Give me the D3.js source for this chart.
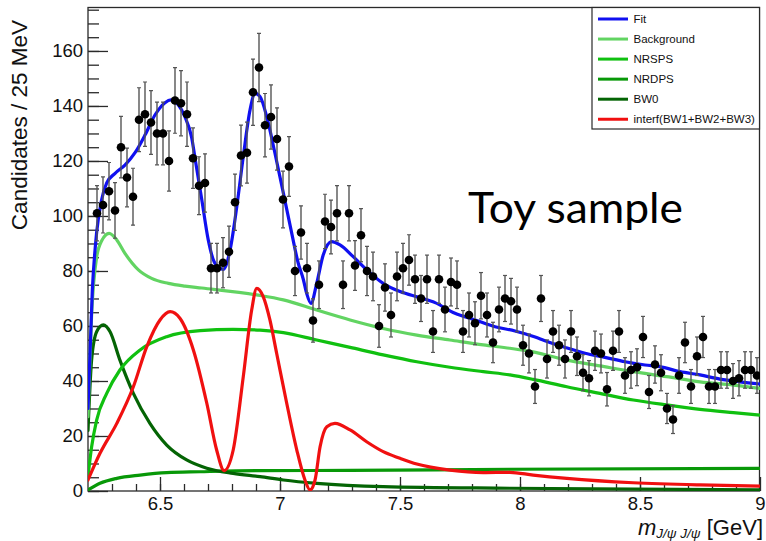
<!DOCTYPE html>
<html>
<head>
<meta charset="utf-8">
<script src="https://cdn.jsdelivr.net/npm/d3@7"></script>
<style>
  body { margin: 0; background: #fff; }
  svg { display: block; }
</style>
</head>
<body>
<svg id="chart" width="766" height="541"></svg>
<script>
// ---- binned data: candidates per 25 MeV bin, starting at 6.2 GeV ----
const binLow = 6.2;
const binWidth = 0.025;
const counts = [null,
  101, 104, 109, 102, 125, 114, 107, 135, 137, 134,
  130, 130, 120, 142, 141, 137, 121, 111, 112, 81,
  81, 83, 87, 105, 122, 123, 145, 154, 133, 136,
  128, 106, 118, 80, 94, 81, 62, 75, 98, 96,
  101, 75, 101, 82, 93, 80, 78, 60, 74, 64,
  78, 81, 84, 77, 70, 77, 58, 77, 66, 76,
  75, 58, 64, 61, 71, 64, 54, 66, 70, 69,
  66, 53, 50, 38, 70, 48, 58, 53, 48, 58,
  49, 43, 41, 51, 50, 37, 51, 58, 42, 44,
  45, 56, 36, 46, 43, 30, 26, 42, 54, 38,
  49, 56, 38, 38, 44, 44, 40, 41, 44, 44,
  42];

// ---- fitted model and components, sampled in mass (GeV) ----
const fitMass = [6.200, 6.218, 6.236, 6.257, 6.278, 6.313, 6.354, 6.396, 6.438, 6.479,
  6.521, 6.546, 6.576, 6.604, 6.632, 6.646, 6.674, 6.701, 6.729, 6.764,
  6.792, 6.820, 6.847, 6.875, 6.896, 6.917, 6.945, 6.979, 7.014, 7.049,
  7.076, 7.097, 7.111, 7.129, 7.153, 7.180, 7.215, 7.250, 7.305, 7.361,
  7.430, 7.500, 7.583, 7.646, 7.729, 7.813, 7.896, 7.979, 8.063, 8.104,
  8.188, 8.271, 8.354, 8.438, 8.521, 8.583, 8.667, 8.750, 8.833, 8.917, 9.000];
const fitVals = [30, 73, 94, 106, 112, 115.5, 118.5, 123, 129.5, 136.7,
  141.2, 142.2, 140.4, 136, 128.5, 121, 106, 91.3, 82.8, 80.6,
  87.6, 103.4, 121.6, 138.5, 144.6, 143.4, 136, 122.8, 108.3, 93.7,
  82.8, 77, 71.9, 68.2, 75.5, 85.8, 90.7, 89.5, 85.2, 80.4,
  75.5, 72.5, 70.3, 68.5, 64.6, 62.2, 59.7, 58.2, 56, 54.6,
  52.2, 50.1, 48.6, 47, 45.8, 45.2, 43.4, 42.2, 40.7, 39.7, 38.9];

const bkgMass = [6.200, 6.215, 6.236, 6.257, 6.288, 6.320, 6.354, 6.410, 6.465, 6.535,
  6.604, 6.674, 6.903, 7.014, 7.153, 7.292, 7.430, 7.570, 7.708, 7.847,
  7.958, 8.055, 8.195, 8.333, 8.472, 8.611, 8.750, 8.889, 9.000];
const bkgVals = [27, 64, 85, 91, 93.7, 91.3, 86.4, 80.4, 77.3, 75.5,
  74.5, 73.8, 71.3, 69.5, 65.8, 62.2, 59.1, 56.7, 54.9, 53.1,
  51.9, 50.6, 47.6, 45.5, 43.4, 41.6, 39.7, 38.5, 37.3];

const nrspsMass = [6.200, 6.215, 6.236, 6.278, 6.333, 6.417, 6.528, 6.667, 6.805, 6.917,
  7.014, 7.153, 7.292, 7.430, 7.570, 7.708, 7.847, 7.958, 8.055, 8.195,
  8.333, 8.472, 8.611, 8.750, 8.889, 9.000];
const nrspsVals = [5.2, 16, 25.8, 35.5, 44, 51.3, 56.1, 58.3, 58.8, 58.5,
  57.6, 54.9, 52.2, 49.5, 47, 45, 43.4, 42.2, 40.6, 37.9,
  35.5, 33.1, 31.3, 29.7, 28.5, 27.6];

const nrdpsMass = [6.200, 6.250, 6.320, 6.417, 6.528, 6.667, 6.917, 7.292, 7.958, 9.000];
const nrdpsVals = [0.4, 2.8, 4.6, 5.8, 6.7, 7.0, 7.4, 7.5, 7.9, 8.2];

const bw0Mass = [6.200, 6.215, 6.236, 6.264, 6.292, 6.333, 6.389, 6.458, 6.528, 6.611,
  6.695, 6.805, 6.917, 7.014, 7.153, 7.430, 7.958, 9.000];
const bw0Vals = [22, 47.6, 57.9, 60.4, 57.9, 47.6, 35.5, 24.6, 16.7, 11.3,
  8.3, 6.4, 5.2, 4, 2.8, 1.6, 1, 0.4];

const interfMass = [6.200, 6.250, 6.320, 6.389, 6.445, 6.500, 6.542, 6.583, 6.639, 6.695,
  6.736, 6.767, 6.805, 6.847, 6.882, 6.903, 6.930, 6.958, 6.986, 7.028,
  7.070, 7.104, 7.125, 7.146, 7.167, 7.195, 7.229, 7.292, 7.361, 7.430,
  7.500, 7.570, 7.708, 7.847, 7.958, 8.055, 8.195, 8.472, 8.750, 9.000];
const interfVals = [4, 13.7, 24.6, 37.9, 52.5, 62.2, 65.2, 62.8, 51.3, 31.9,
  14.9, 7.4, 14.9, 41.6, 65.8, 73.7, 70.7, 62.2, 50.1, 31.9,
  14.9, 4, 0.4, 4, 16.1, 23.4, 24.6, 22.2, 17.9, 14.3,
  11.9, 9.8, 7.6, 6.7, 6.8, 5.8, 4.6, 3, 2.2, 1.8];

// ---- axis ticks ----
const yMajorTicks = [0, 20, 40, 60, 80, 100, 120, 140, 160];
const yMinorTicks = d3.range(0, 176, 5);
const xMajorTicks = [6.5, 7, 7.5, 8, 8.5, 9];
const xTickLabels = ["6.5", "7", "7.5", "8", "8.5", "9"];
const xMinorTicks = [6.3, 6.4, 6.5, 6.6, 6.7, 6.8, 6.9, 7.0, 7.1, 7.2, 7.3, 7.4, 7.5,
  7.6, 7.7, 7.8, 7.9, 8.0, 8.1, 8.2, 8.3, 8.4, 8.5, 8.6, 8.7, 8.8, 8.9];

// ---- legend ----
const legendNames = ["Fit", "Background", "NRSPS", "NRDPS", "BW0", "interf(BW1+BW2+BW3)"];
const legendColors = ["#1010f0", "#62d462", "#10c010", "#089808", "#046404", "#f01010"];

// ---- layout ----
const svg = d3.select("#chart");
const plotLeft = 88, plotRight = 760, plotTop = 7.5, plotBottom = 491;

const x = d3.scaleLinear().domain([6.2, 9]).range([plotLeft, plotRight]);
const y = d3.scaleLinear().domain([0, 175.8]).range([plotBottom, plotTop]);

svg.append("defs").append("clipPath").attr("id", "plotClip")
  .append("rect").attr("x", plotLeft).attr("y", plotTop)
  .attr("width", plotRight - plotLeft).attr("height", plotBottom - plotTop);

// minor / major ticks drawn inward
const axisColor = "#2a2a2a";
function styleAxis(g) {
  g.select(".domain").remove();
  g.selectAll(".tick line").attr("stroke", axisColor).attr("stroke-width", 1.3);
  g.selectAll(".tick text").attr("fill", "#111")
    .attr("font-family", "'Liberation Sans', Arial, sans-serif").attr("font-size", 18.5);
}

svg.append("g").attr("transform", `translate(${plotLeft},0)`)
  .call(d3.axisLeft(y).tickValues(yMinorTicks).tickSize(-11).tickFormat(""))
  .call(styleAxis);
svg.append("g").attr("transform", `translate(${plotLeft},0)`)
  .call(d3.axisLeft(y).tickValues(yMajorTicks).tickSize(-20).tickPadding(5).tickFormat(d3.format("d")))
  .call(styleAxis);

svg.append("g").attr("transform", `translate(0,${plotBottom})`)
  .call(d3.axisBottom(x).tickValues(xMinorTicks).tickSize(-7).tickFormat(""))
  .call(styleAxis);
svg.append("g").attr("transform", `translate(0,${plotBottom})`)
  .call(d3.axisBottom(x).tickValues(xMajorTicks).tickSize(-14).tickPadding(6)
    .tickFormat((d, i) => xTickLabels[i]))
  .call(styleAxis);

// frame
svg.append("rect").attr("x", plotLeft).attr("y", plotTop)
  .attr("width", plotRight - 0.5 - plotLeft).attr("height", plotBottom - plotTop)
  .attr("fill", "none").attr("stroke", axisColor).attr("stroke-width", 1.3);

// curves
const curves = [
  { m: nrdpsMass, v: nrdpsVals, c: legendColors[3] },
  { m: bw0Mass, v: bw0Vals, c: legendColors[4] },
  { m: nrspsMass, v: nrspsVals, c: legendColors[2] },
  { m: bkgMass, v: bkgVals, c: legendColors[1] },
  { m: interfMass, v: interfVals, c: legendColors[5] },
  { m: fitMass, v: fitVals, c: legendColors[0] }
];
const line = d3.line().x(d => x(d[0])).y(d => y(d[1])).curve(d3.curveMonotoneX);
const curveG = svg.append("g").attr("clip-path", "url(#plotClip)");
curves.forEach(cv => {
  curveG.append("path")
    .attr("d", line(cv.m.map((m, i) => [m, cv.v[i]])))
    .attr("fill", "none").attr("stroke", cv.c).attr("stroke-width", 3.2)
    .attr("stroke-linejoin", "round").attr("stroke-linecap", "round");
});

// data points with Poisson error bars
const points = counts.map((n, i) => ({ m: binLow + binWidth * (i + 0.5), n }))
  .filter(d => d.n !== null);
const dataG = svg.append("g").attr("clip-path", "url(#plotClip)");
const pt = dataG.selectAll("g.pt").data(points).join("g").attr("class", "pt");
pt.append("line")
  .attr("x1", d => x(d.m)).attr("x2", d => x(d.m))
  .attr("y1", d => y(d.n - Math.sqrt(d.n))).attr("y2", d => y(d.n + Math.sqrt(d.n)))
  .attr("stroke", "#555").attr("stroke-width", 1.4);
[-1, 1].forEach(s => {
  pt.append("line")
    .attr("x1", d => x(d.m) - 2).attr("x2", d => x(d.m) + 2)
    .attr("y1", d => y(d.n + s * Math.sqrt(d.n))).attr("y2", d => y(d.n + s * Math.sqrt(d.n)))
    .attr("stroke", "#555").attr("stroke-width", 1.2);
});
pt.append("circle")
  .attr("cx", d => x(d.m)).attr("cy", d => y(d.n)).attr("r", 4.3)
  .attr("fill", "#000");

// legend
const lg = svg.append("g");
lg.append("rect").attr("x", 592).attr("y", plotTop)
  .attr("width", plotRight - 0.5 - 592).attr("height", 121.5)
  .attr("fill", "#fff").attr("stroke", axisColor).attr("stroke-width", 1.2);
legendNames.forEach((name, i) => {
  const yy = 19 + i * 20.05;
  lg.append("line").attr("x1", 598).attr("x2", 628).attr("y1", yy).attr("y2", yy)
    .attr("stroke", legendColors[i]).attr("stroke-width", 3);
  lg.append("text").attr("x", 633.5).attr("y", yy).attr("dy", "0.36em")
    .attr("font-family", "'Liberation Sans', Arial, sans-serif").attr("font-size", 11.5)
    .attr("fill", "#111").text(name);
});

// axis titles
svg.append("text")
  .attr("transform", "translate(27,20) rotate(-90)")
  .attr("text-anchor", "end")
  .attr("font-family", "'Liberation Sans', Arial, sans-serif").attr("font-size", 22.5)
  .attr("fill", "#111").text("Candidates / 25 MeV");

const xt = svg.append("text").attr("x", 763).attr("y", 534.5).attr("text-anchor", "end")
  .attr("font-family", "'Liberation Sans', Arial, sans-serif").attr("fill", "#111");
xt.append("tspan").attr("font-size", 22).attr("font-style", "italic").text("m");
xt.append("tspan").attr("font-size", 13.5).attr("font-style", "italic").attr("dy", 3.5).text("J/ψ J/ψ");
xt.append("tspan").attr("font-size", 22).attr("dy", -3.5).text(" [GeV]");

// sample annotation
svg.append("text").attr("x", 468).attr("y", 223)
  .attr("font-family", "Lato, 'Open Sans', sans-serif").attr("font-size", 42)
  .attr("textLength", 215).attr("lengthAdjust", "spacingAndGlyphs")
  .attr("fill", "#000").text("Toy sample");
</script>
</body>
</html>
